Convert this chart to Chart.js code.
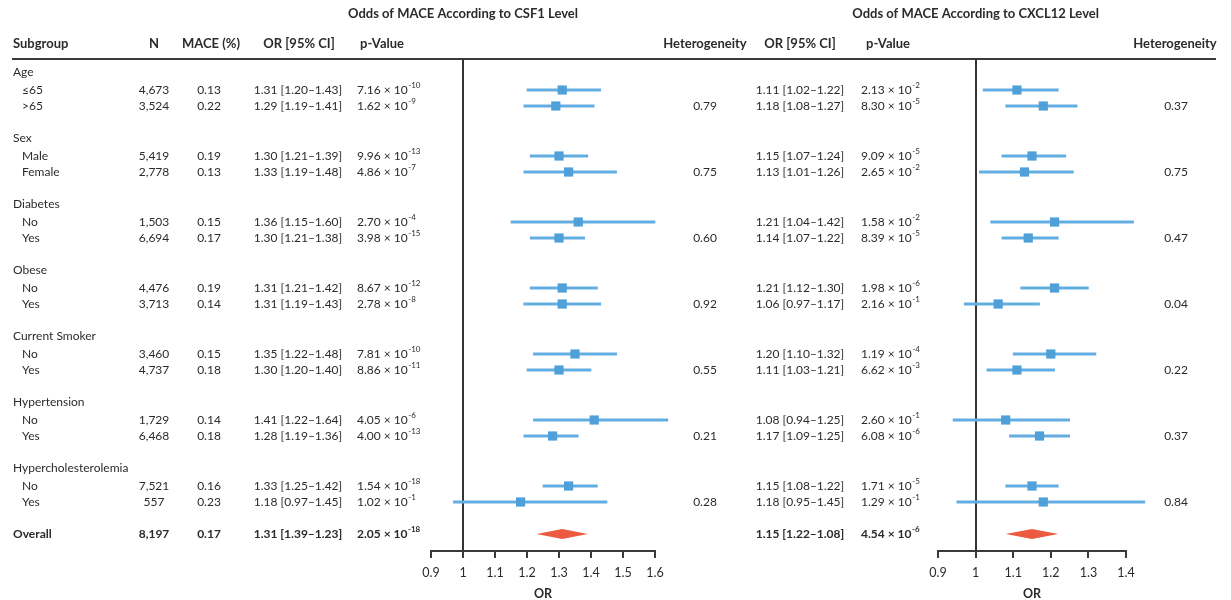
<!DOCTYPE html>
<html>
<head>
<meta charset="utf-8">
<script src="https://cdn.jsdelivr.net/npm/chart.js@4.4.0/dist/chart.umd.min.js"></script>
<style>
  body { margin: 0; background: #fff; }
  #wrap { position: relative; width: 1231px; height: 600px; }
  #wrap canvas { position: absolute; left: 0; top: 0; }
</style>
</head>
<body>
<div id="wrap">
  <canvas id="csf1" width="1231" height="600"></canvas>
  <canvas id="cxcl12" width="1231" height="600"></canvas>
</div>
<script>
const groups = ['Age', 'Sex', 'Diabetes', 'Obese', 'Current Smoker', 'Hypertension', 'Hypercholesterolemia'];
const subgroups = ['≤65', '>65', 'Male', 'Female', 'No', 'Yes', 'No', 'Yes', 'No', 'Yes', 'No', 'Yes', 'No', 'Yes'];
const nCount = [4673, 3524, 5419, 2778, 1503, 6694, 4476, 3713, 3460, 4737, 1729, 6468, 7521, 557];
const macePct = [0.13, 0.22, 0.19, 0.13, 0.15, 0.17, 0.19, 0.14, 0.15, 0.18, 0.14, 0.18, 0.16, 0.23];

const csf1OR = [1.31, 1.29, 1.30, 1.33, 1.36, 1.30, 1.31, 1.31, 1.35, 1.30, 1.41, 1.28, 1.33, 1.18];
const csf1Lo = [1.20, 1.19, 1.21, 1.19, 1.15, 1.21, 1.21, 1.19, 1.22, 1.20, 1.22, 1.19, 1.25, 0.97];
const csf1Hi = [1.43, 1.41, 1.39, 1.48, 1.60, 1.38, 1.42, 1.43, 1.48, 1.40, 1.64, 1.36, 1.42, 1.45];
const csf1PMant = [7.16, 1.62, 9.96, 4.86, 2.70, 3.98, 8.67, 2.78, 7.81, 8.86, 4.05, 4.00, 1.54, 1.02];
const csf1PExp = [-10, -9, -13, -7, -4, -15, -12, -8, -10, -11, -6, -13, -18, -1];
const csf1Het = [0.79, 0.75, 0.60, 0.92, 0.55, 0.21, 0.28];

const cxcl12OR = [1.11, 1.18, 1.15, 1.13, 1.21, 1.14, 1.21, 1.06, 1.20, 1.11, 1.08, 1.17, 1.15, 1.18];
const cxcl12Lo = [1.02, 1.08, 1.07, 1.01, 1.04, 1.07, 1.12, 0.97, 1.10, 1.03, 0.94, 1.09, 1.08, 0.95];
const cxcl12Hi = [1.22, 1.27, 1.24, 1.26, 1.42, 1.22, 1.30, 1.17, 1.32, 1.21, 1.25, 1.25, 1.22, 1.45];
const cxcl12PMant = [2.13, 8.30, 9.09, 2.65, 1.58, 8.39, 1.98, 2.16, 1.19, 6.62, 2.60, 6.08, 1.71, 1.29];
const cxcl12PExp = [-2, -5, -5, -2, -2, -5, -6, -1, -4, -3, -1, -6, -5, -1];
const cxcl12Het = [0.37, 0.75, 0.47, 0.04, 0.22, 0.37, 0.84];

// overall row: [CSF1, CXCL12]
const overallN = 8197;
const overallMace = 0.17;
const overallOR = [1.31, 1.15];
const overallLo = [1.23, 1.08];
const overallHi = [1.39, 1.22];
const overallPMant = [2.05, 4.54];
const overallPExp = [-18, -6];

const csf1Ticks = [0.9, 1, 1.1, 1.2, 1.3, 1.4, 1.5, 1.6];
const cxcl12Ticks = [0.9, 1, 1.1, 1.2, 1.3, 1.4];

// row layout (y scale units are pixels below the "Age" row)
const GROUP_GAP = 66, ITEM_OFF = 18, ITEM_STEP = 16;
const headerPos = g => g * GROUP_GAP;
const itemPos = k => headerPos(Math.floor(k / 2)) + ITEM_OFF + (k % 2) * ITEM_STEP;
const overallPos = groups.length * GROUP_GAP;

const FONT = 'Lato, "Noto Sans", sans-serif';
const TEXT = '#2b2b2b';
const SIZE = 12;

function txt(ctx, s, x, y, align, bold, size) {
    ctx.font = `${bold ? 'bold ' : ''}${size || SIZE}px ${FONT}`;
    ctx.textAlign = align;
    ctx.textBaseline = 'middle';
    ctx.fillStyle = TEXT;
    ctx.fillText(s, x, y);
}

function pval(ctx, mant, exp, x, y, bold) {
    const base = `${mant.toFixed(2)} × 10`;
    txt(ctx, base, x, y, 'left', bold);
    const w = ctx.measureText(base).width;
    txt(ctx, String(exp), x + w + 0.5, y - 5, 'left', bold, 8);
}

const orText = (or, lo, hi) => `${or.toFixed(2)} [${lo.toFixed(2)}–${hi.toFixed(2)}]`;

function drawDiamond(chart, or, lo, hi) {
    const { ctx, scales: { x, y } } = chart;
    const cy = y.getPixelForValue(overallPos);
    ctx.save();
    ctx.fillStyle = '#ec5a40';
    ctx.beginPath();
    ctx.moveTo(x.getPixelForValue(lo), cy);
    ctx.lineTo(x.getPixelForValue(or), cy - 5);
    ctx.lineTo(x.getPixelForValue(hi), cy);
    ctx.lineTo(x.getPixelForValue(or), cy + 5);
    ctx.closePath();
    ctx.fill();
    ctx.restore();
}

function drawCsf1Text(chart) {
    const { ctx, scales: { x, y } } = chart;
    ctx.save();
    txt(ctx, 'Odds of MACE According to CSF1 Level', x.getPixelForValue(1), 14, 'center', true, 13);
    txt(ctx, 'Subgroup', 13, 44, 'left', true, 13);
    txt(ctx, 'N', 154, 44, 'center', true, 13);
    txt(ctx, 'MACE (%)', 211, 44, 'center', true, 13);
    txt(ctx, 'OR [95% CI]', 299, 44, 'center', true, 13);
    txt(ctx, 'p-Value', 382, 44, 'center', true, 13);
    txt(ctx, 'Heterogeneity', 705, 44, 'center', true, 13);

    ctx.strokeStyle = '#3a3a3a';
    ctx.lineWidth = 2;
    ctx.beginPath();
    ctx.moveTo(12, 59);
    ctx.lineTo(1216, 59);
    ctx.stroke();

    groups.forEach((g, i) => {
        txt(ctx, g, 13, y.getPixelForValue(headerPos(i)), 'left', false);
        txt(ctx, csf1Het[i].toFixed(2), 705, y.getPixelForValue(itemPos(2 * i + 1)), 'center', false);
    });
    subgroups.forEach((s, k) => {
        const py = y.getPixelForValue(itemPos(k));
        txt(ctx, s, 22, py, 'left', false);
        txt(ctx, nCount[k].toLocaleString('en-US'), 154, py, 'center', false);
        txt(ctx, macePct[k].toFixed(2), 209, py, 'center', false);
        txt(ctx, orText(csf1OR[k], csf1Lo[k], csf1Hi[k]), 298, py, 'center', false);
        pval(ctx, csf1PMant[k], csf1PExp[k], 357, py, false);
    });
    const oy = y.getPixelForValue(overallPos);
    txt(ctx, 'Overall', 13, oy, 'left', true);
    txt(ctx, overallN.toLocaleString('en-US'), 154, oy, 'center', true);
    txt(ctx, overallMace.toFixed(2), 209, oy, 'center', true);
    txt(ctx, orText(overallOR[0], overallHi[0], overallLo[0]), 298, oy, 'center', true);
    pval(ctx, overallPMant[0], overallPExp[0], 357, oy, true);
    ctx.restore();
    drawDiamond(chart, overallOR[0], overallLo[0], overallHi[0]);
}

function drawCxcl12Text(chart) {
    const { ctx, scales: { x, y } } = chart;
    ctx.save();
    txt(ctx, 'Odds of MACE According to CXCL12 Level', x.getPixelForValue(1), 14, 'center', true, 13);
    txt(ctx, 'OR [95% CI]', 800, 44, 'center', true, 13);
    txt(ctx, 'p-Value', 888, 44, 'center', true, 13);
    txt(ctx, 'Heterogeneity', 1175, 44, 'center', true, 13);

    groups.forEach((g, i) => {
        txt(ctx, cxcl12Het[i].toFixed(2), 1176, y.getPixelForValue(itemPos(2 * i + 1)), 'center', false);
    });
    subgroups.forEach((s, k) => {
        const py = y.getPixelForValue(itemPos(k));
        txt(ctx, orText(cxcl12OR[k], cxcl12Lo[k], cxcl12Hi[k]), 800, py, 'center', false);
        pval(ctx, cxcl12PMant[k], cxcl12PExp[k], 861, py, false);
    });
    const oy = y.getPixelForValue(overallPos);
    txt(ctx, orText(overallOR[1], overallHi[1], overallLo[1]), 800, oy, 'center', true);
    pval(ctx, overallPMant[1], overallPExp[1], 861, oy, true);
    ctx.restore();
    drawDiamond(chart, overallOR[1], overallLo[1], overallHi[1]);
}

function makePanel(id, or, lo, hi, ticks, left, right, drawText) {
    return new Chart(document.getElementById(id), {
        data: {
            datasets: [
                {
                    type: 'scatter',
                    data: or.map((v, k) => ({ x: v, y: itemPos(k) })),
                    pointStyle: 'rect',
                    pointRadius: 6.5,
                    pointHoverRadius: 6.5,
                    backgroundColor: '#4f9fd9',
                    borderWidth: 0,
                    order: 1
                },
                {
                    type: 'bar',
                    indexAxis: 'y',
                    data: lo.map((v, k) => ({ x: [v, hi[k]], y: itemPos(k) })),
                    barThickness: 2.5,
                    backgroundColor: '#62ade2',
                    borderWidth: 0,
                    clip: false,
                    order: 2
                }
            ]
        },
        options: {
            responsive: false,
            animation: false,
            events: [],
            layout: { padding: { left: left, right: 1231 - right, top: 59, bottom: 0 } },
            plugins: { legend: { display: false }, tooltip: { enabled: false } },
            scales: {
                x: {
                    type: 'linear',
                    min: ticks[0],
                    max: ticks[ticks.length - 1],
                    beginAtZero: false,
                    afterBuildTicks: s => { s.ticks = ticks.map(value => ({ value })); },
                    afterFit: s => { s.height = 49; },
                    ticks: {
                        color: TEXT,
                        font: { family: FONT, size: 12.5 },
                        padding: 7,
                        maxRotation: 0,
                        callback: v => String(v)
                    },
                    grid: {
                        drawOnChartArea: true,
                        color: c => (c.tick && Math.abs(c.tick.value - 1) < 1e-6) ? '#333' : 'rgba(0,0,0,0)',
                        lineWidth: 2,
                        tickLength: 7,
                        tickColor: '#3a3a3a',
                        tickWidth: 2
                    },
                    border: { display: true, color: '#3a3a3a', width: 2 },
                    title: {
                        display: true,
                        text: 'OR',
                        color: TEXT,
                        font: { family: FONT, size: 12.5, weight: 'bold', lineHeight: 1 },
                        padding: { top: 2, bottom: 0 }
                    }
                },
                y: {
                    type: 'linear',
                    min: -13,
                    max: 479,
                    reverse: true,
                    display: false,
                    offset: false,
                    grid: { offset: false }
                }
            }
        },
        plugins: [{ id: 'tableText', afterDraw: drawText }]
    });
}

makePanel('csf1', csf1OR, csf1Lo, csf1Hi, csf1Ticks, 431, 655, drawCsf1Text);
makePanel('cxcl12', cxcl12OR, cxcl12Lo, cxcl12Hi, cxcl12Ticks, 938, 1126, drawCxcl12Text);
</script>
</body>
</html>
